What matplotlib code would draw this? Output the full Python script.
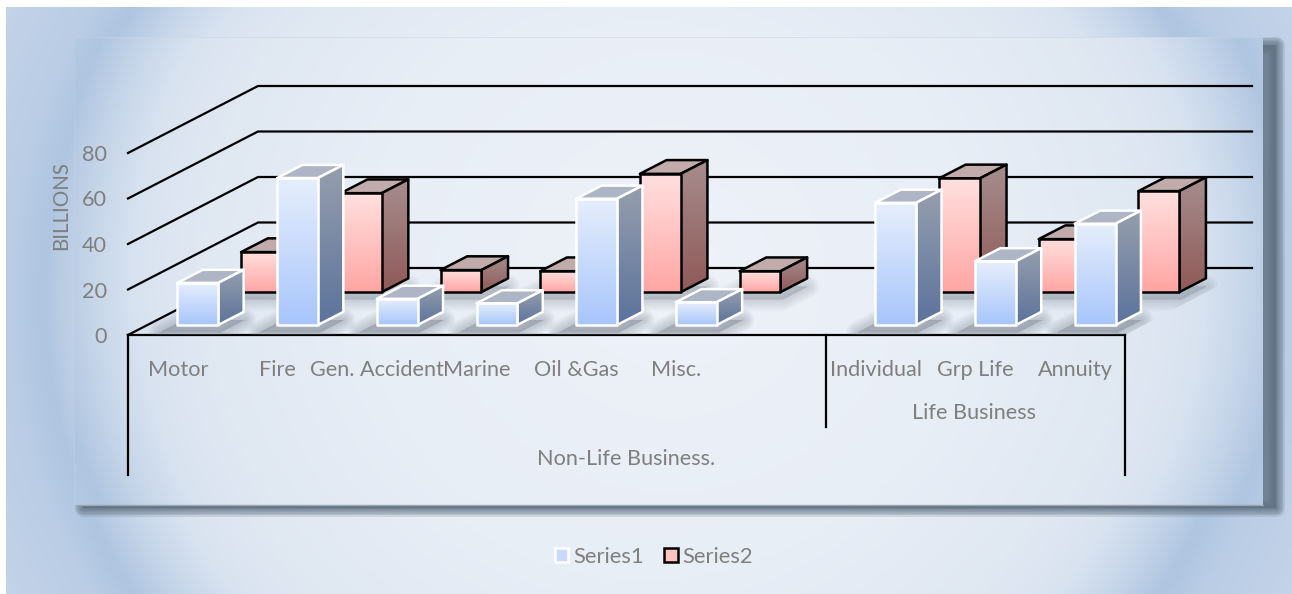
import numpy as np
import matplotlib
matplotlib.use("Agg")
import matplotlib.pyplot as plt
from matplotlib.patches import Polygon, Patch, Rectangle
from matplotlib.colors import LinearSegmentedColormap, to_rgb

categories = ["Motor", "Fire", "Gen. Accident", "Marine", "Oil &Gas", "Misc.", "",
              "Individual", "Grp Life", "Annuity"]
series1 = [18.5, 64.6, 11.5, 9.5, 55.5, 10.0, None, 53.7, 28.0, 44.5]
series2 = [17.6, 43.5, 9.7, 9.2, 52.0, 9.2, None, 50.0, 23.3, 44.4]
series_names = ["Series1", "Series2"]
y_ticks = [0, 20, 40, 60, 80]
group_labels = ["Non-Life Business.", "Life Business"]

plt.rcParams['font.family'] = ['Lato', 'DejaVu Sans']
TXT = '#7f7f7f'
FS = 15.6
W, H = 1292, 594
fig = plt.figure(figsize=(W/100, H/100), dpi=100)

# ---------- page background ----------
bg = fig.add_axes([0, 0, 1, 1], zorder=0)
bg.set_xlim(0, W); bg.set_ylim(H, 0); bg.axis('off')
yy, xx = np.mgrid[0:H, 0:W]
stops = [(0, '#eef2f9'), (0.5, '#e8eef6'), (0.75, '#e0e8f2'), (0.86, '#d9e3f0'), (0.94, '#c4d4e8'),
         (1.0, '#afc5e0'), (1.06, '#bacde5'), (1.2, '#c4d4e9'), (1.8, '#c6d6ea')]
pos = [s[0] for s in stops]
rgb = np.array([to_rgb(s[1]) for s in stops])
def shade(cx, cy, a, b):
    r = np.sqrt(((xx-cx)/a)**2 + ((yy-cy)/b)**2)
    return np.dstack([np.interp(r, pos, rgb[:, i]) for i in range(3)])
img = shade(646, 300, 603, 558)
panel_img = shade(669, 271, 620, 588)
bg.imshow(img, extent=(0, W, H, 0), aspect='auto', zorder=0)
bg.add_patch(Rectangle((0, 0), W, 7, fc='white', ec='none', zorder=1))
bg.add_patch(Rectangle((0, 0), 6, H, fc='white', ec='none', zorder=1))
# panel shadow
for lw in np.arange(0, 14, 2):
    bg.add_patch(Rectangle((83, 45), 1193, 463, fc='#5f6f80', ec='#5f6f80',
                           lw=lw, alpha=0.2, zorder=2, joinstyle='round'))
im = bg.imshow(panel_img, extent=(0, W, H, 0), aspect='auto', zorder=3)
clip = Rectangle((74, 37), 1189, 468, transform=bg.transData)
im.set_clip_path(clip)
bg.plot([74, 1263], [37, 37], color='#c8d4e4', lw=0.6, alpha=0.6, zorder=4)
bg.plot([74, 74], [37, 505], color='#c8d4e4', lw=0.6, alpha=0.4, zorder=4)
bg.plot([78, 1263], [505, 505], color='#9aa5b2', lw=1.0, zorder=5)
bg.set_xlim(0, W); bg.set_ylim(H, 0)

# ---------- chart axes: x in category slots, y in values ----------
SLOT = 99.7
VAL = 2.275
X0, Y0 = 128, 335
ax = fig.add_axes([0, 0, 1, 1], zorder=1)
ax.patch.set_alpha(0)
XLIM = (-X0/SLOT, (W-X0)/SLOT)
YLIM = ((Y0-H)/VAL, Y0/VAL)
ax.set_xlim(*XLIM); ax.set_ylim(*YLIM)
for k in ('top', 'right'):
    ax.spines[k].set_visible(False)
ax.spines['left'].set_position(('data', 0)); ax.spines['left'].set_visible(False)
ax.spines['bottom'].set_position(('data', 0))
ax.spines['bottom'].set_bounds(0, 10)
ax.spines['bottom'].set_linewidth(1.6)
ax.spines['bottom'].set_color('black')

slots = np.arange(len(categories))
ax.set_xticks(slots + 0.5, categories)
ax.set_yticks(y_ticks)
ax.tick_params(axis='x', length=0, pad=18, labelsize=FS, labelcolor=TXT)
ax.tick_params(axis='y', length=0, pad=15, labelsize=FS, labelcolor=TXT)
ax.text(-0.67, 56.9, "BILLIONS", rotation=90, ha='center', va='center',
        color=TXT, fontsize=14.8)

# oblique depth projection
DXD = 130/SLOT
DYD = 67/VAL
def proj(x, v, d):
    return (x + DXD*d, v + DYD*d)

# floor outline used only to clip shadows
floor = [proj(0, 0, 0), proj(0, 0, 1), proj(9.97, 0, 1), proj(10, 0, 0)]
for v in y_ticks:
    a, b, c = proj(0, v, 0), proj(0, v, 1), proj(9.97, v, 1)
    ax.plot([a[0], b[0], c[0]], [a[1], b[1], c[1]], color='black', lw=1.6, zorder=2,
            solid_joinstyle='miter')

# separators and group labels
sep_y = [(0, -61.5), (7, -40.5), (10, -61.5)]
for x, low in sep_y:
    ax.plot([x, x], [0, low], color='black', lw=1.6, zorder=3)
ax.text(5.0, -54.5, group_labels[0], ha='center', va='center', color=TXT, fontsize=FS)
ax.text(8.49, -34.5, group_labels[1], ha='center', va='center', color=TXT, fontsize=FS)

zc = [10]
def nz():
    zc[0] += 1
    return zc[0]

def grad_face(pts, c_top, c_bot, edge):
    pts = np.array(pts)
    cm = LinearSegmentedColormap.from_list('f', [c_top, c_bot])
    x0, x1 = pts[:, 0].min(), pts[:, 0].max()
    y0, y1 = pts[:, 1].min(), pts[:, 1].max()
    g = np.linspace(0, 1, 64)[:, None]
    z = nz()
    im = ax.imshow(g, cmap=cm, vmin=0, vmax=1, extent=(x0, x1, y0, y1), origin='upper',
                   aspect='auto', zorder=z, interpolation='bilinear')
    poly = Polygon(pts, transform=ax.transData, fc='none', ec='none')
    ax.add_patch(poly)
    im.set_clip_path(poly)
    ax.add_patch(Polygon(pts, fc='none', ec=edge, lw=1.8, zorder=z, joinstyle='round'))

def shadow(x0, x1, d0, d1, a):
    pts = [proj(x0-0.10, -1.5, d0-0.06), proj(x1+0.10, -1.5, d0-0.06),
           proj(x1+0.10, -1.5, d1-0.07), proj(x0-0.10, -1.5, d1-0.07)]
    clip_poly = Polygon(floor, transform=ax.transData, fc='none', ec='none')
    ax.add_patch(clip_poly)
    for lw in np.arange(1, 17, 3):
        p = Polygon(pts, fc='#707a86', ec='#707a86', lw=lw, alpha=a, zorder=5,
                    joinstyle='round')
        ax.add_patch(p)
        p.set_clip_path(clip_poly)

def bar(i, val, d0, d1, cols, edge):
    x0, x1 = i + 0.30, i + 0.71
    f = [proj(x0, 0, d0), proj(x1, 0, d0), proj(x1, val, d0), proj(x0, val, d0)]
    s = [proj(x1, 0, d0), proj(x1, 0, d1), proj(x1, val, d1), proj(x1, val, d0)]
    t = [proj(x0, val, d0), proj(x1, val, d0), proj(x1, val, d1), proj(x0, val, d1)]
    grad_face(t, cols['top'], cols['top'], edge)
    grad_face(s, cols['s0'], cols['s1'], edge)
    grad_face(f, cols['f0'], cols['f1'], edge)

C1 = dict(top='#aeb5c6', s0='#959ead', s1='#5c739c', f0='#e6eefc', f1='#a8c6fb')
C2 = dict(top='#c2abab', s0='#a68d8d', s1='#8f5a58', f0='#ffe0df', f1='#ffa6a4')
D1 = (0.15, 0.345)
D2 = (0.64, 0.845)

for i, v in enumerate(series2):
    if v is not None:
        shadow(i+0.30, i+0.71, *D2, 0.05)
for i, v in enumerate(series1):
    if v is not None:
        shadow(i+0.30, i+0.71, *D1, 0.07)
for i, v in enumerate(series2):
    if v is not None:
        bar(i, v, D2[0], D2[1], C2, 'black')
for i, v in enumerate(series1):
    if v is not None:
        bar(i, v, D1[0], D1[1], C1, 'white')

ax.set_xlim(*XLIM); ax.set_ylim(*YLIM)

handles = [Patch(fc='#c8d9fb', ec='white', lw=1.8, label=series_names[0]),
           Patch(fc='#ffc4c2', ec='black', lw=1.8, label=series_names[1])]
leg = ax.legend(handles=handles, ncol=2, frameon=False, loc='center',
                bbox_to_anchor=(654/W, 1-557/H), fontsize=FS+0.2, labelcolor=TXT,
                handlelength=0.6, handleheight=0.6, handletextpad=0.22, columnspacing=0.95)

fig.savefig("out.png", dpi=100)
